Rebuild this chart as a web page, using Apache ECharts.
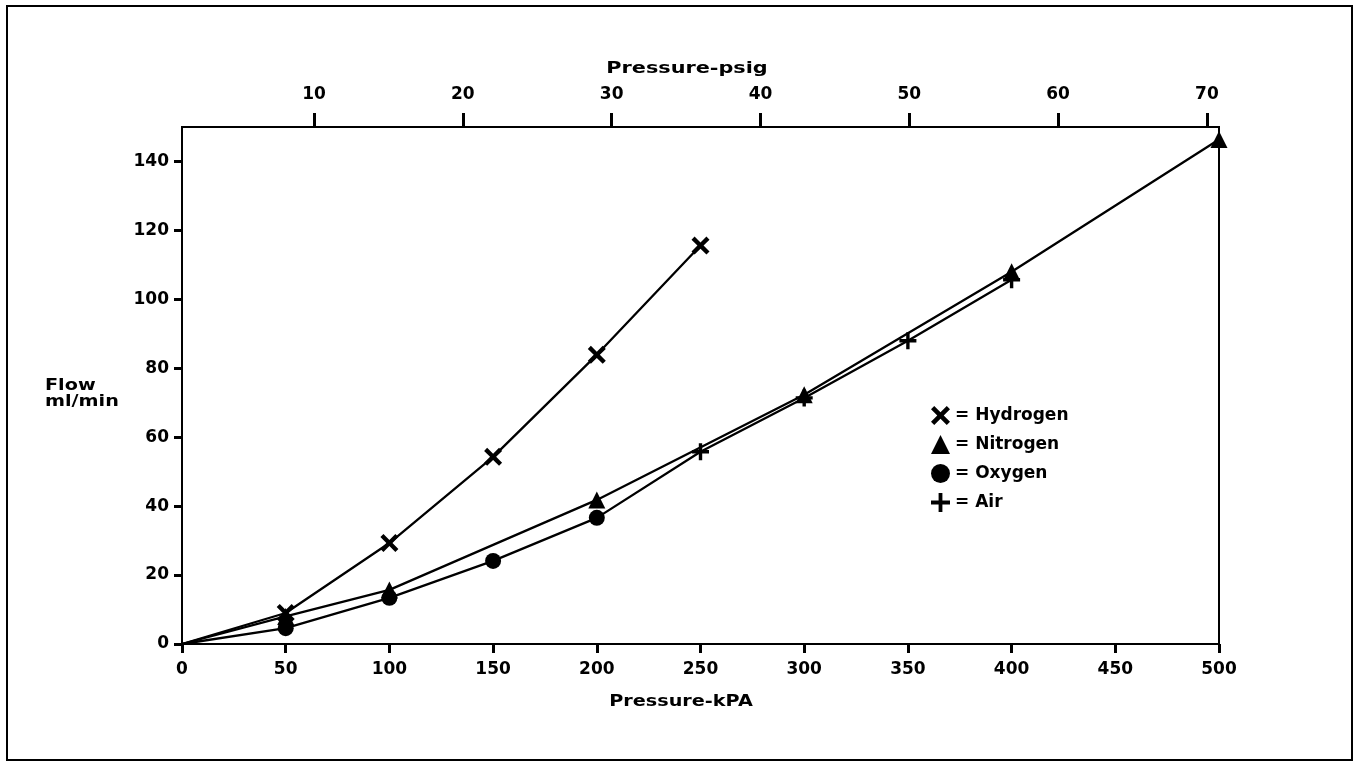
<!DOCTYPE html>
<html><head><meta charset="utf-8">
<script src="https://cdn.jsdelivr.net/npm/echarts@6/dist/echarts.min.js"></script>
<style>html,body{margin:0;padding:0;background:#fff}#c{width:1359px;height:769px}</style>
</head><body><div id="c"></div>
<script>
const hydrogenX = [0, 50, 100, 150, 200, 250];
const hydrogenY = [0, 9, 29.3, 54.3, 83.9, 115.6];
const nitrogenX = [0, 50, 100, 200, 300, 400, 500];
const nitrogenY = [0, 8, 15.7, 41.8, 72.3, 108, 146.4];
const oxygenX = [0, 50, 100, 150, 200];
const oxygenY = [0, 4.6, 13.4, 24.1, 36.6];
const airX = [200, 250, 300, 350, 400];
const airY = [36.6, 55.8, 71.4, 88, 105.7];
const yTicks = [0, 20, 40, 60, 80, 100, 120, 140];
const psigTicks = [10, 20, 30, 40, 50, 60, 70];

const XPATH = 'path://M0,1.7L1.7,0L5,3.3L8.3,0L10,1.7L6.7,5L10,8.3L8.3,10L5,6.7L1.7,10L0,8.3L3.3,5Z';
const PLUS = 'path://M4,0H6V4H10V6H6V10H4V6H0V4H4Z';
const font = 'DejaVu Sans, Verdana, sans-serif';
// hide the marker on the shared origin / joining point (first point of each line)
const pts = (xs, ys) => xs.map((x, i) => i === 0 ? {value:[x, ys[i]], symbol:'none'} : {value:[x, ys[i]]});

const chart = echarts.init(document.getElementById('c'));
const lab = {color:'#000', fontFamily:font, fontWeight:'bold', fontSize:17};
const titleFont = 'bold 16px DejaVu Sans, Verdana, sans-serif';
chart.setOption({
  animation:false,
  backgroundColor:'#fff',
  grid:{left:182, top:127, right:140, bottom:125, show:true, borderColor:'#000', borderWidth:2},
  xAxis:[{
    type:'value', min:0, max:500, interval:50, position:'bottom',
    axisLine:{lineStyle:{color:'#000', width:2}},
    axisTick:{show:true, length:9, lineStyle:{color:'#000', width:3}},
    axisLabel:Object.assign({margin:17}, lab),
    splitLine:{show:false}
  },{
    type:'value', min:1.13, max:70.81, position:'top',
    axisLine:{show:true, lineStyle:{color:'#000', width:2}},
    axisTick:{show:true, length:14, customValues:psigTicks, lineStyle:{color:'#000', width:3}},
    axisLabel:Object.assign({margin:24, customValues:psigTicks}, lab),
    splitLine:{show:false}
  }],
  yAxis:{
    type:'value', min:0, max:150,
    axisLine:{show:true, lineStyle:{color:'#000', width:2}},
    axisTick:{show:true, length:8, customValues:yTicks, lineStyle:{color:'#000', width:3}},
    axisLabel:Object.assign({margin:13, customValues:yTicks}, lab),
    splitLine:{show:false}
  },
  legend:{
    orient:'vertical', left:926, top:401, itemGap:10, itemWidth:19, itemHeight:19,
    textStyle:Object.assign({}, lab, {fontSize:17}),
    formatter:n => '= ' + n,
    data:[{name:'Hydrogen', icon:XPATH},{name:'Nitrogen', icon:'triangle'},{name:'Oxygen', icon:'circle'},{name:'Air', icon:PLUS}]
  },
  graphic:[
    {type:'rect', shape:{x:7, y:6, width:1345, height:754}, style:{fill:'none', stroke:'#000', lineWidth:2}, silent:true},
    {type:'text', x:45, y:378, scaleX:1.28, style:{text:'Flow\nml/min', fill:'#000', font:'bold 15px DejaVu Sans, Verdana, sans-serif', lineHeight:16, align:'left', verticalAlign:'top'}},
    {type:'text', x:687, y:69, scaleX:1.3, style:{text:'Pressure-psig', fill:'#000', font:titleFont, align:'center', verticalAlign:'middle'}},
    {type:'text', x:681, y:702, scaleX:1.2, style:{text:'Pressure-kPA', fill:'#000', font:titleFont, align:'center', verticalAlign:'middle'}}
  ],
  series:[
    {name:'Hydrogen', type:'line', data:pts(hydrogenX, hydrogenY), symbol:XPATH, symbolSize:18,
     lineStyle:{color:'#000', width:2.3}, itemStyle:{color:'#000'}},
    {name:'Nitrogen', type:'line', data:pts(nitrogenX, nitrogenY), symbol:'triangle', symbolSize:17,
     lineStyle:{color:'#000', width:2.3}, itemStyle:{color:'#000'}},
    {name:'Oxygen', type:'line', data:pts(oxygenX, oxygenY), symbol:'circle', symbolSize:16,
     lineStyle:{color:'#000', width:2.3}, itemStyle:{color:'#000'}},
    {name:'Air', type:'line', data:pts(airX, airY), symbol:PLUS, symbolSize:17,
     lineStyle:{color:'#000', width:2.3}, itemStyle:{color:'#000'}}
  ]
});
</script></body></html>
